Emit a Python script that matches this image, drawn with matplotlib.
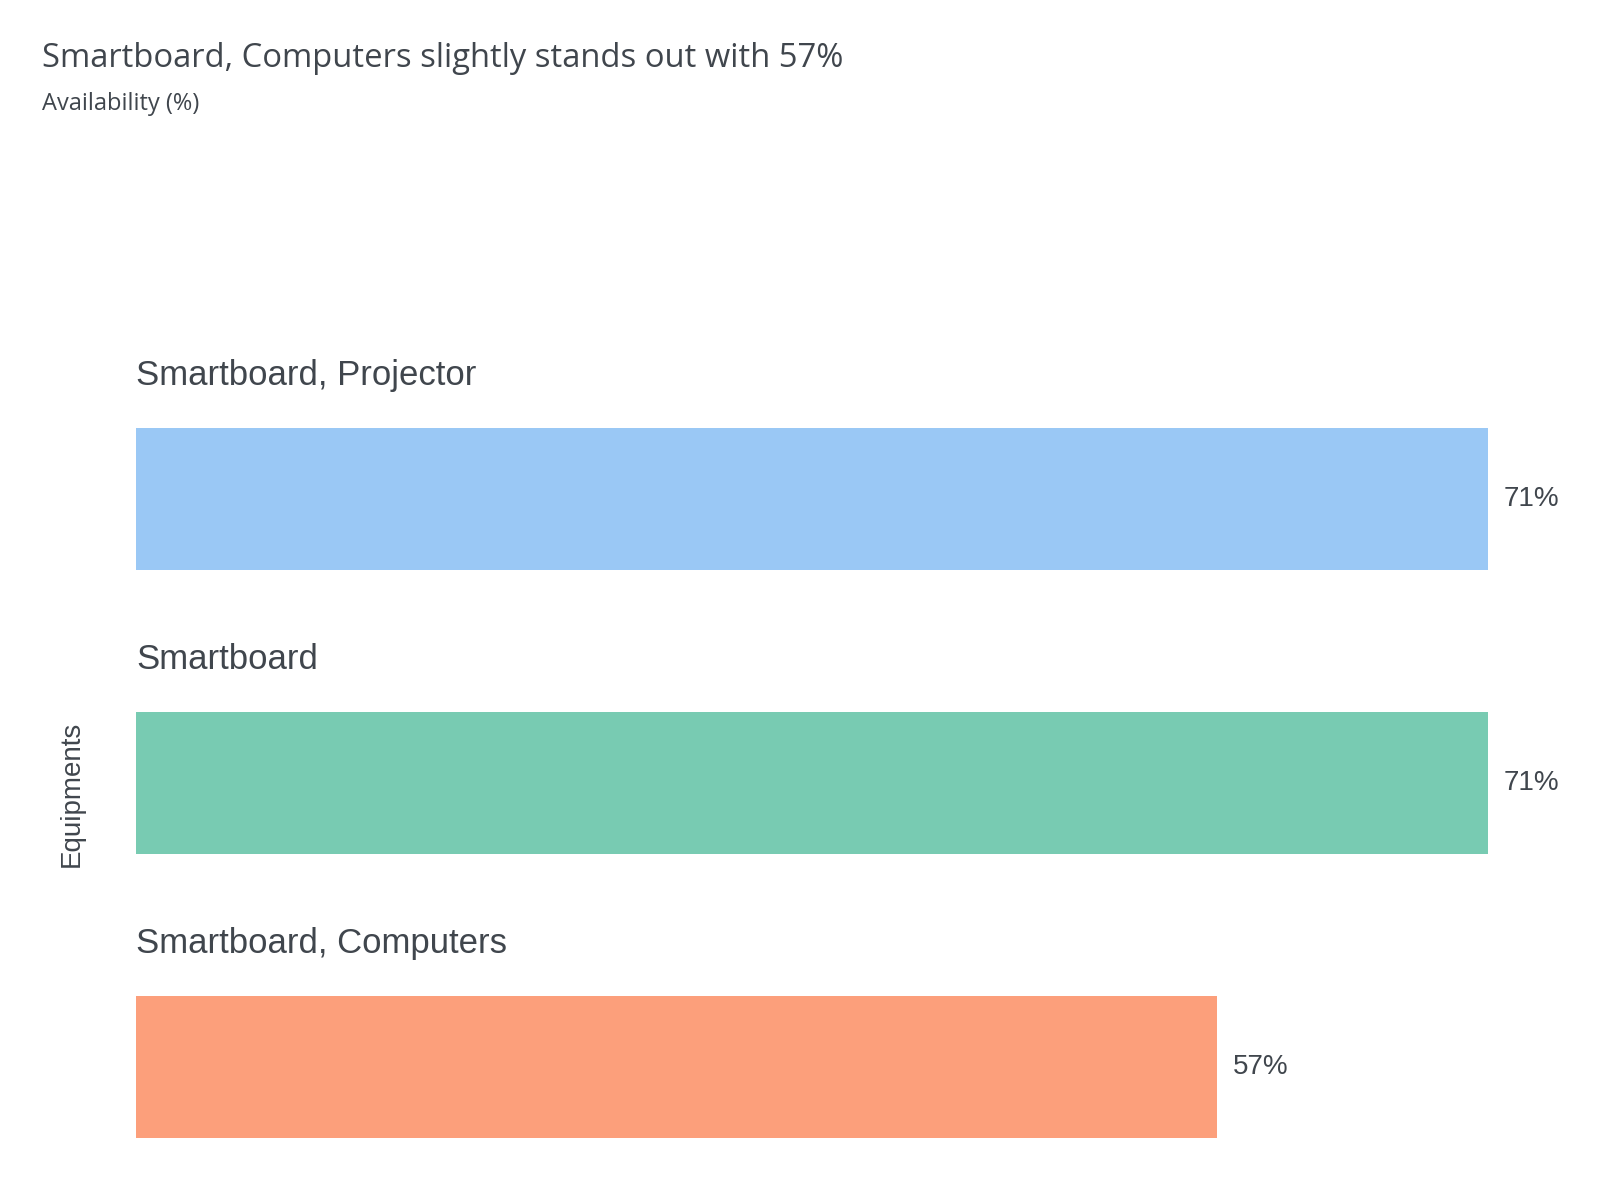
import matplotlib
matplotlib.use("Agg")
import matplotlib.pyplot as plt

# Data
categories = ["Smartboard, Projector", "Smartboard", "Smartboard, Computers"]
values = [71.4, 71.4, 57.1]
colors = ["#9AC8F5", "#78CBB2", "#FC9F7B"]

title = "Smartboard, Computers slightly stands out with 57%"
subtitle = "Availability (%)"
ylabel = "Equipments"
text_color = "#40464D"

W, H = 1600, 1180
fig = plt.figure(figsize=(W / 100, H / 100), dpi=100)

# axes: bars span x 136..1488 px, y 428..1138 px
left, right = 136 / W, 1488 / W
top, bottom = 1 - 428 / H, 1 - 1138 / H
ax = fig.add_axes([left, bottom, right - left, top - bottom])

ypos = list(range(len(categories)))
ax.barh(ypos, values, height=0.5, color=colors)
ax.set_xlim(0, max(values))
ax.set_ylim(len(categories) - 0.75, -0.25)
ax.axis("off")

for y, cat, v in zip(ypos, categories, values):
    ax.text(0, y - 0.25 - 0.152, cat, fontsize=25, family="Liberation Sans",
            color=text_color, va="baseline", ha="left", clip_on=False)
    ax.text(v + max(values) * 16 / 1352, y, f"{v:.0f}%", fontsize=20,
            family="Liberation Sans", color=text_color, va="center",
            ha="left", clip_on=False)

fig.text(42 / W, 1 - 67 / H, title, fontsize=23.6, family="Open Sans",
         color=text_color, va="baseline", ha="left")
fig.text(42 / W, 1 - 110 / H, subtitle, fontsize=17, family="Open Sans",
         color=text_color, va="baseline", ha="left")
fig.text(72 / W, 1 - 794 / H, ylabel, fontsize=20, family="Liberation Sans",
         color=text_color, rotation=90, va="center", ha="center")

fig.savefig("out.png", dpi=100, facecolor="white")
